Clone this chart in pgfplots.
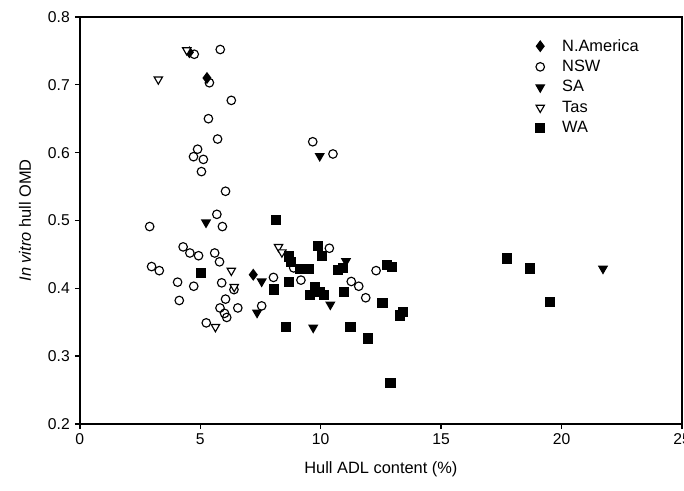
\documentclass[border=0pt]{standalone}
\usepackage{fontspec}
\setmainfont{Liberation Sans}
\usepackage{pgfplots}
\pgfplotsset{compat=1.18}

% scatter data
\pgfplotstableread{
x y
4.55 0.748
5.28 0.710
7.20 0.420
}\namerica
\pgfplotstableread{
x y
5.83 0.752
4.75 0.745
5.38 0.703
6.29 0.677
5.34 0.650
5.72 0.620
4.89 0.605
5.13 0.590
4.72 0.594
5.05 0.572
6.05 0.543
5.69 0.509
5.92 0.491
2.90 0.491
4.29 0.461
4.57 0.452
4.93 0.448
5.60 0.452
5.80 0.439
2.98 0.432
3.30 0.426
4.06 0.409
4.73 0.403
5.89 0.408
4.13 0.382
6.05 0.384
5.82 0.371
6.56 0.371
6.01 0.363
6.10 0.357
7.55 0.374
5.25 0.349
8.04 0.416
9.67 0.616
10.51 0.598
8.88 0.430
9.18 0.412
10.36 0.459
12.30 0.426
11.27 0.410
11.58 0.403
11.87 0.386
6.40 0.398
}\nsw
\pgfplotstableread{
x y
5.24 0.497
9.96 0.595
7.55 0.410
7.36 0.364
9.69 0.342
10.40 0.376
11.05 0.440
21.72 0.429
}\sa
\pgfplotstableread{
x y
4.44 0.751
3.26 0.708
8.25 0.461
8.39 0.453
6.29 0.426
6.41 0.402
5.63 0.343
}\tas
\pgfplotstableread{
x y
8.15 0.501
5.02 0.423
8.70 0.447
8.78 0.439
8.69 0.409
8.05 0.398
8.56 0.343
9.14 0.428
9.49 0.428
9.89 0.462
10.05 0.448
9.76 0.402
9.97 0.395
9.56 0.390
10.13 0.390
10.73 0.427
10.94 0.430
10.97 0.395
11.24 0.343
11.95 0.326
12.57 0.378
12.74 0.434
12.95 0.431
13.29 0.360
13.43 0.365
12.90 0.260
17.75 0.444
18.70 0.429
19.51 0.380
}\wa

\begin{document}
\begin{tikzpicture}
\begin{axis}[
    name=ax,
    scale only axis,
    width=422.6pt, height=285.6pt,
    xmin=0, xmax=25, ymin=0.2, ymax=0.8,
    xtick={0,5,10,15,20,25},
    ytick={0.2,0.3,0.4,0.5,0.6,0.7,0.8},
    yticklabel style={/pgf/number format/fixed, /pgf/number format/precision=1, /pgf/number format/fixed zerofill},
    tick pos=left,
    tick align=outside,
    major tick length=3.5pt,
    axis line style={line width=1pt},
    every tick/.style={black, line width=1pt},
    /pgf/number format/assume math mode=true,
    ticklabel style={font=\fontsize{11}{13}\selectfont},
    xlabel={Hull ADL content (\%)},
    ylabel={\textit{In vitro} hull OMD},
    label style={font=\fontsize{11.5}{13}\selectfont},
    xlabel style={at={(rel axis cs:0.5,0)}, anchor=center, yshift=-32pt},
    ylabel style={at={(rel axis cs:0,0.5)}, anchor=center, rotate=0, yshift=38.5pt},
    legend cell align=left,
    legend style={draw=none, fill=none, at={(rel axis cs:0.7466,0.96)}, anchor=north west,
        font=\fontsize{11.5}{13}\selectfont, row sep=0.8pt},
    legend image code/.code={
        \path (-4pt,0pt) (13pt,0pt);
        \draw[#1] plot coordinates {(0pt,0pt)};
    },
    mark size=3pt,
    every axis plot/.append style={only marks, line width=0.8pt},
]
\addplot[mark=diamond*, mark size=3.6pt, draw=black, fill=black] table {\namerica};
\addlegendentry{N.America}
\addplot[mark=o, draw=black, mark options={fill=white}] table {\nsw};
\addlegendentry{NSW}
\addplot[mark=triangle*, mark size=3.4pt, draw=black, fill=black, mark options={rotate=180}] table {\sa};
\addlegendentry{SA}
\addplot[mark=triangle*, mark size=3.4pt, draw=black, mark options={rotate=180, fill=white}] table {\tas};
\addlegendentry{Tas}
\addplot[mark=square*, mark size=3.2pt, draw=black, fill=black] table {\wa};
\addlegendentry{WA}
\end{axis}
\pgfresetboundingbox
\path[use as bounding box] ([xshift=-56pt,yshift=-47pt]ax.south west) rectangle ([xshift=1.4pt,yshift=11.9pt]ax.north east);
\end{tikzpicture}
\end{document}
